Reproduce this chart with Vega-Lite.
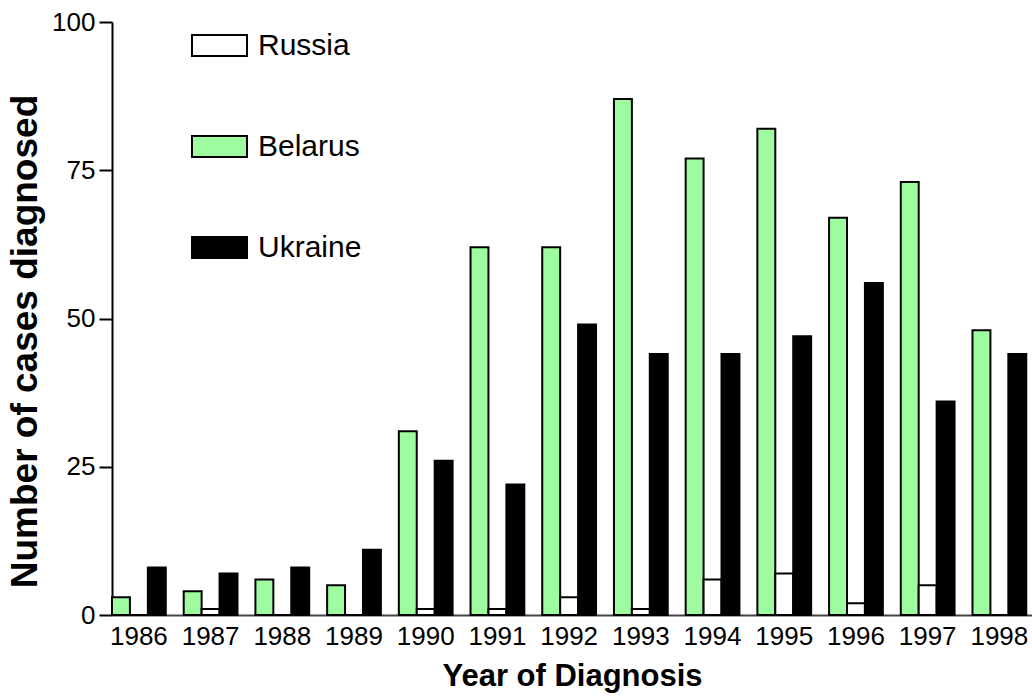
{
  "$schema": "https://vega.github.io/schema/vega-lite/v6.json",
  "width": 920,
  "height": 593,
  "autosize": {"type": "none"},
  "padding": {"left": 112, "top": 22, "right": 0, "bottom": 81},
  "background": "white",
  "config": {
    "view": {"stroke": null},
    "font": "Liberation Sans",
    "axis": {"labelColor": "black", "titleColor": "black", "labelFont": "Liberation Sans", "titleFont": "Liberation Sans"},
    "legend": {"labelFont": "Liberation Sans", "labelColor": "black"}
  },
  "data": {
    "values": [
      {"year": "1986", "country": "Belarus", "cases": 3},
      {"year": "1986", "country": "Russia", "cases": 0},
      {"year": "1986", "country": "Ukraine", "cases": 8},
      {"year": "1987", "country": "Belarus", "cases": 4},
      {"year": "1987", "country": "Russia", "cases": 1},
      {"year": "1987", "country": "Ukraine", "cases": 7},
      {"year": "1988", "country": "Belarus", "cases": 6},
      {"year": "1988", "country": "Russia", "cases": 0},
      {"year": "1988", "country": "Ukraine", "cases": 8},
      {"year": "1989", "country": "Belarus", "cases": 5},
      {"year": "1989", "country": "Russia", "cases": 0},
      {"year": "1989", "country": "Ukraine", "cases": 11},
      {"year": "1990", "country": "Belarus", "cases": 31},
      {"year": "1990", "country": "Russia", "cases": 1},
      {"year": "1990", "country": "Ukraine", "cases": 26},
      {"year": "1991", "country": "Belarus", "cases": 62},
      {"year": "1991", "country": "Russia", "cases": 1},
      {"year": "1991", "country": "Ukraine", "cases": 22},
      {"year": "1992", "country": "Belarus", "cases": 62},
      {"year": "1992", "country": "Russia", "cases": 3},
      {"year": "1992", "country": "Ukraine", "cases": 49},
      {"year": "1993", "country": "Belarus", "cases": 87},
      {"year": "1993", "country": "Russia", "cases": 1},
      {"year": "1993", "country": "Ukraine", "cases": 44},
      {"year": "1994", "country": "Belarus", "cases": 77},
      {"year": "1994", "country": "Russia", "cases": 6},
      {"year": "1994", "country": "Ukraine", "cases": 44},
      {"year": "1995", "country": "Belarus", "cases": 82},
      {"year": "1995", "country": "Russia", "cases": 7},
      {"year": "1995", "country": "Ukraine", "cases": 47},
      {"year": "1996", "country": "Belarus", "cases": 67},
      {"year": "1996", "country": "Russia", "cases": 2},
      {"year": "1996", "country": "Ukraine", "cases": 56},
      {"year": "1997", "country": "Belarus", "cases": 73},
      {"year": "1997", "country": "Russia", "cases": 5},
      {"year": "1997", "country": "Ukraine", "cases": 36},
      {"year": "1998", "country": "Belarus", "cases": 48},
      {"year": "1998", "country": "Russia", "cases": 0},
      {"year": "1998", "country": "Ukraine", "cases": 44}
    ]
  },
  "mark": {"type": "bar", "stroke": "black", "strokeWidth": 2},
  "encoding": {
    "x": {
      "field": "year",
      "type": "ordinal",
      "scale": {"paddingInner": 0.25, "paddingOuter": 0.04, "align": 0},
      "axis": {
        "title": "Year of Diagnosis",
        "titleFontSize": 31,
        "titleFontWeight": "bold",
        "titlePadding": 12,
        "labelFontSize": 26,
        "labelAngle": 0,
        "labelPadding": 8,
        "ticks": false,
        "domainColor": "#444444",
        "domainWidth": 2
      }
    },
    "xOffset": {
      "field": "country",
      "type": "nominal",
      "sort": ["Belarus", "Russia", "Ukraine"],
      "scale": {"paddingInner": 0, "paddingOuter": 0}
    },
    "y": {
      "field": "cases",
      "type": "quantitative",
      "scale": {"domain": [0, 100], "nice": false},
      "axis": {
        "title": "Number of cases diagnosed",
        "titleFontSize": 37,
        "titleFontWeight": "bold",
        "titlePadding": 7,
        "titleY": 319,
        "values": [0, 25, 50, 75, 100],
        "grid": false,
        "tickSize": 13,
        "tickWidth": 2,
        "tickColor": "black",
        "domainColor": "black",
        "domainWidth": 2,
        "labelFontSize": 26,
        "labelPadding": 4
      }
    },
    "color": {
      "field": "country",
      "type": "nominal",
      "scale": {"domain": ["Russia", "Belarus", "Ukraine"], "range": ["white", "#9ffb9f", "black"]},
      "legend": {
        "title": null,
        "orient": "none",
        "legendX": 79,
        "legendY": -5,
        "direction": "vertical",
        "symbolType": "M-1,-0.38H1V0.38H-1Z",
        "symbolSize": 3025,
        "symbolStrokeColor": "black",
        "symbolStrokeWidth": 2,
        "symbolOpacity": 1,
        "labelFontSize": 30,
        "labelOffset": 10,
        "rowPadding": 57
      }
    }
  }
}
